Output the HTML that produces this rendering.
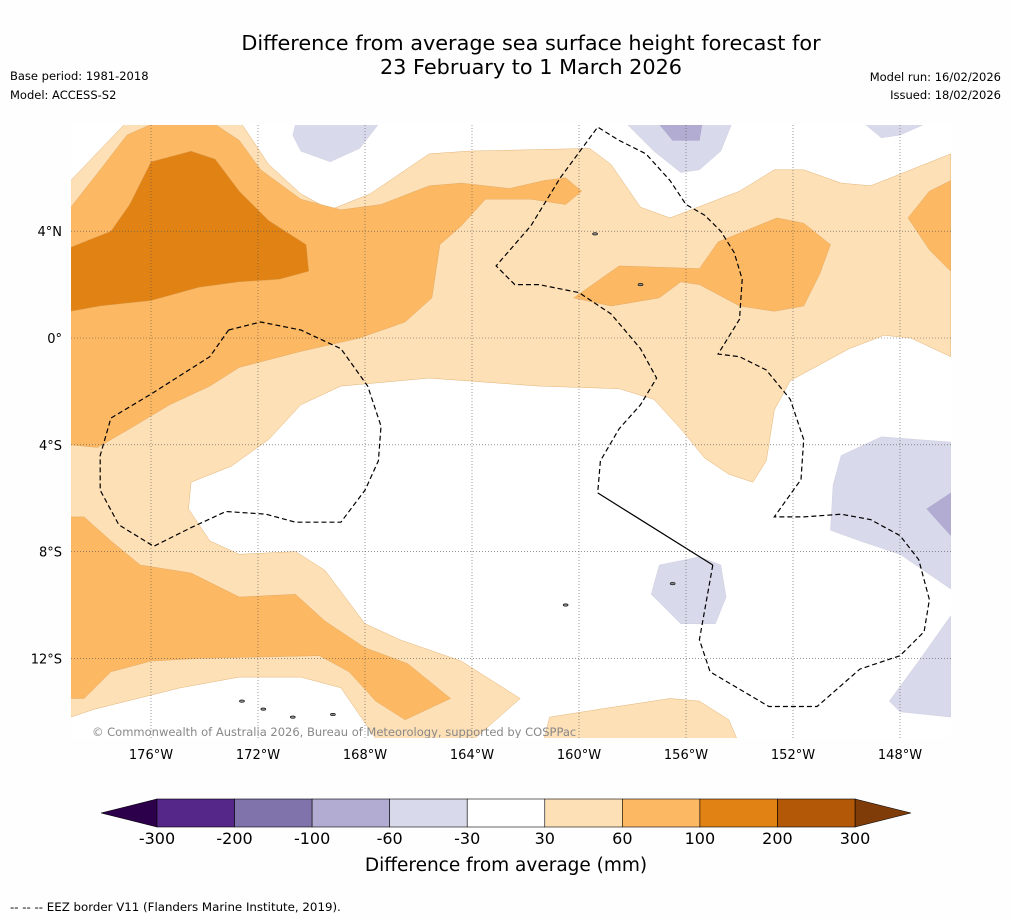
<!DOCTYPE html>
<html><head><meta charset="utf-8">
<style>
body{margin:0;background:#fff;width:1011px;height:919px;overflow:hidden;font-family:"DejaVu Sans",sans-serif;}
</style></head>
<body>
<svg id="chart" width="1011" height="919" xmlns="http://www.w3.org/2000/svg" font-family="DejaVu Sans, sans-serif">
<rect width="1011" height="919" fill="#fefefe"/>
<text x="531" y="50" font-size="20.8" text-anchor="middle">Difference from average sea surface height forecast for</text>
<text x="531" y="74" font-size="20.8" text-anchor="middle">23 February to 1 March 2026</text>
<text x="10" y="80" font-size="11.5">Base period: 1981-2018</text>
<text x="10" y="99" font-size="11.5">Model: ACCESS-S2</text>
<text x="1001" y="81" font-size="11.5" text-anchor="end">Model run: 16/02/2026</text>
<text x="1001" y="99" font-size="11.5" text-anchor="end">Issued: 18/02/2026</text>
<defs><clipPath id="mapclip"><rect x="71" y="125" width="880" height="613"/></clipPath></defs>
<g id="map" clip-path="url(#mapclip)">
<rect x="71" y="125" width="880" height="613" fill="#fff"/>
</g>
<g id="axes"></g>
<g id="cbar"></g>
<text x="506" y="871" font-size="18.5" text-anchor="middle">Difference from average (mm)</text>
<text x="10" y="911" font-size="11.8">--  --  -- EEZ border V11 (Flanders Marine Institute, 2019).</text>
</svg>
<script>
const NS="http://www.w3.org/2000/svg";
const levels=[-300,-200,-100,-60,-30,30,60,100,200,300];
const levelColors=["#542788","#8073ac","#b2abd2","#d8daeb","#ffffff","#fee0b6","#fdb863","#e08214","#b35806"];
const lonTicks=[-176,-172,-168,-164,-160,-156,-152,-148];
const lonLabels=["176°W","172°W","168°W","164°W","160°W","156°W","152°W","148°W"];
const latTicks=[4,0,-4,-8,-12];
const latLabels=["4°N","0°","4°S","8°S","12°S"];
const c30a=[[-179,5.9],[-177,8.0],[-172.6,8.0],[-171.6,6.5],[-170.4,5.4],[-169.3,4.8],[-167.8,5.4],[-165.6,6.9],[-164.1,7.0],[-159.6,7.1],[-158.8,6.5],[-157.7,4.9],[-156.6,4.5],[-154.0,5.5],[-152.7,6.3],[-151.6,6.3],[-150.2,5.8],[-149.1,5.7],[-146.1,6.9],[-146.1,-0.7],[-147.6,0],[-148.6,0.1],[-149.9,-0.4],[-152.1,-1.6],[-152.7,-2.7],[-153.0,-4.6],[-153.5,-5.4],[-154.4,-5.1],[-155.3,-4.5],[-156.2,-3.4],[-157.2,-2.3],[-158.5,-1.9],[-161.5,-1.8],[-165.6,-1.5],[-168.9,-1.8],[-170.4,-2.5],[-171.6,-3.8],[-173.0,-4.8],[-174.5,-5.4],[-174.6,-6.4],[-173.8,-7.6],[-172.7,-8.1],[-170.6,-8.0],[-169.5,-8.7],[-168.0,-10.7],[-166.7,-11.3],[-164.4,-12.1],[-163.3,-12.8],[-162.2,-13.5],[-163.9,-15.0],[-167.6,-15.0],[-168.9,-13.1],[-170.4,-12.7],[-172.7,-12.7],[-174.9,-13.1],[-178.1,-13.9],[-179,-14.2]];
const c30b=[[-161.3,-15],[-161.1,-14.2],[-159.2,-13.9],[-156.6,-13.5],[-155.5,-13.6],[-154.4,-14.3],[-154.1,-15]];
const c60a=[[-179,4.9],[-177.9,6.3],[-176.9,7.6],[-176.0,8.0],[-173.6,8.0],[-172.7,7.4],[-171.9,6.3],[-170.4,5.2],[-168.9,4.8],[-167.4,5.0],[-165.6,5.7],[-164.4,5.8],[-162.6,5.6],[-161.3,5.9],[-160.5,6.0],[-159.9,5.5],[-160.5,5.0],[-161.8,5.2],[-163.5,5.2],[-164.4,4.2],[-165.2,3.5],[-165.5,1.5],[-166.5,0.6],[-168.2,0],[-170.4,-0.5],[-172.7,-1.1],[-173.8,-1.8],[-175.3,-2.5],[-176.8,-3.4],[-178.0,-4.1],[-179,-4.0]];
const c60b=[[-160.2,1.5],[-158.5,2.7],[-155.5,2.6],[-154.8,3.6],[-152.6,4.5],[-151.6,4.3],[-150.6,3.5],[-151.0,2.4],[-151.6,1.2],[-152.7,1.0],[-154.0,1.2],[-155.5,2.0],[-156.2,2.1],[-157.0,1.5],[-158.8,1.2]];
const c60c=[[-147.7,4.5],[-146.9,5.5],[-146.1,5.9],[-146.1,2.5],[-146.9,3.3]];
const c60d=[[-179,-6.7],[-178.5,-6.7],[-177.5,-7.6],[-176.4,-8.5],[-174.5,-8.8],[-172.7,-9.7],[-170.6,-9.6],[-169.5,-10.6],[-168.0,-11.6],[-166.4,-12.2],[-164.8,-13.5],[-166.5,-14.3],[-167.6,-13.6],[-168.6,-12.5],[-169.7,-11.9],[-174.2,-12.0],[-176.0,-12.1],[-177.5,-12.5],[-178.5,-13.5],[-179,-13.5]];
const c100a=[[-179,3.4],[-177.5,4.0],[-176.8,5.0],[-176.0,6.6],[-174.5,7.0],[-173.6,6.7],[-172.7,5.5],[-171.6,4.4],[-170.2,3.5],[-170.1,2.5],[-171.2,2.2],[-172.7,2.1],[-174.2,1.9],[-176.0,1.4],[-177.9,1.2],[-179,1.0]];
const n30a=[[-170.6,8],[-167.5,8],[-168.2,7.1],[-169.3,6.6],[-170.4,7.0],[-170.7,7.6]];
const n30b=[[-158.2,8],[-154.3,8],[-154.7,7.0],[-155.5,6.3],[-156.2,6.2],[-157.2,7.0]];
const n60b=[[-157,8],[-155.4,8],[-155.5,7.4],[-156.5,7.4]];
const n30c=[[-149.3,8],[-147.1,8],[-148.0,7.6],[-148.7,7.5]];
const n30d=[[-150.2,-4.4],[-148.7,-3.7],[-146.1,-3.9],[-146.1,-9.4],[-148.0,-8.1],[-149.5,-7.6],[-150.6,-7.2],[-150.5,-5.5]];
const n60d=[[-147.0,-6.4],[-146.1,-5.8],[-146.1,-7.4]];
const n30e=[[-157.0,-8.5],[-155.5,-8.2],[-154.7,-8.5],[-154.5,-9.7],[-154.9,-10.7],[-156.2,-10.7],[-157.3,-9.6]];
const n30f=[[-148.4,-13.6],[-147.3,-12.1],[-146.1,-10.4],[-146.1,-14.2],[-148.0,-14.0]];
const eezA=[[-173.1,0.3],[-171.9,0.6],[-170.4,0.3],[-168.9,-0.4],[-167.9,-1.8],[-167.4,-3.3],[-167.5,-4.6],[-168.0,-5.7],[-168.9,-6.9],[-170.6,-6.9],[-171.7,-6.6],[-173.2,-6.5],[-174.5,-7.1],[-175.9,-7.8],[-177.2,-7.0],[-177.9,-5.7],[-177.9,-4.4],[-177.5,-3.0],[-176.0,-2.1],[-173.8,-0.7],[-173.1,0.3]];
const eezB=[[-155.0,-8.5],[-155.5,-11.3],[-155.1,-12.5],[-152.9,-13.8],[-151.1,-13.8],[-149.5,-12.4],[-148.0,-11.9],[-147.1,-11.0],[-146.9,-9.8],[-147.3,-8.3],[-148.0,-7.4],[-149.1,-6.8],[-150.2,-6.6],[-151.6,-6.7],[-152.7,-6.7],[-151.7,-5.3],[-151.6,-3.8],[-152.1,-2.3],[-153.0,-1.2],[-154.0,-0.7],[-154.8,-0.6],[-154.0,0.7],[-153.9,2.2],[-154.2,3.2],[-154.7,4.0],[-155.3,4.6],[-156.0,5.0],[-156.6,5.9],[-157.5,6.9],[-158.5,7.4],[-159.3,7.9],[-160.7,6.0],[-161.8,4.2],[-163.1,2.7],[-162.4,2.0],[-161.5,2.0],[-160.0,1.7],[-158.8,0.9],[-157.7,-0.4],[-157.1,-1.5],[-157.7,-2.5],[-158.5,-3.4],[-159.2,-4.6],[-159.3,-5.8]];
const boundary=[[-159.3,-5.8],[-155.0,-8.5]];
const islands=[[-172.6,-13.6],[-171.8,-13.9],[-170.7,-14.2],[-169.2,-14.1],[-157.7,2.0],[-159.4,3.9],[-156.5,-9.2],[-160.5,-10.0]];

const xS=lon=>151+(lon+176)*26.75;
const yS=lat=>338-lat*26.7;
const pts=a=>a.map(p=>xS(p[0]).toFixed(1)+","+yS(p[1]).toFixed(1)).join(" ");
const map=document.getElementById("map");
function poly(arr,color,name,stroke){
  const p=document.createElementNS(NS,"polygon");
  p.setAttribute("points",pts(arr));
  p.setAttribute("fill",color);
  p.setAttribute("stroke",stroke||"#d9a560");p.setAttribute("stroke-width","0.4");
  
  
  map.appendChild(p);
}
poly(c30a,levelColors[5],"contour-30-60-main");
poly(c30b,levelColors[5],"contour-30-60-south");
poly(c60a,levelColors[6],"contour-60-100-northwest");
poly(c60b,levelColors[6],"contour-60-100-central");
poly(c60c,levelColors[6],"contour-60-100-east");
poly(c60d,levelColors[6],"contour-60-100-southwest");
poly(c100a,levelColors[7],"contour-100-200-northwest");
poly(n30a,levelColors[3],"contour-neg30-60-a","#c8c8dc");
poly(n30b,levelColors[3],"contour-neg30-60-b","#c8c8dc");
poly(n60b,levelColors[2],"contour-neg60-100-b","#a8a0c8");
poly(n30c,levelColors[3],"contour-neg30-60-c","#c8c8dc");
poly(n30d,levelColors[3],"contour-neg30-60-d","#c8c8dc");
poly(n60d,levelColors[2],"contour-neg60-100-d","#a8a0c8");
poly(n30e,levelColors[3],"contour-neg30-60-e","#c8c8dc");
poly(n30f,levelColors[3],"contour-neg30-60-f","#c8c8dc");
islands.forEach(function(p){
  const e=document.createElementNS(NS,"ellipse");
  e.setAttribute("cx",xS(p[0]));e.setAttribute("cy",yS(p[1]));
  e.setAttribute("rx",2.5);e.setAttribute("ry",1.2);
  e.setAttribute("fill","#888");e.setAttribute("stroke","#000");e.setAttribute("stroke-width","0.6");
  
  
  map.appendChild(e);
});
lonTicks.forEach(function(l){
  const ln=document.createElementNS(NS,"line");
  ln.setAttribute("x1",xS(l));ln.setAttribute("x2",xS(l));ln.setAttribute("y1",125);ln.setAttribute("y2",738);
  ln.setAttribute("stroke","#555");ln.setAttribute("stroke-width","0.6");ln.setAttribute("stroke-dasharray","1,2");
  
  
  map.appendChild(ln);
});
latTicks.forEach(function(l){
  const ln=document.createElementNS(NS,"line");
  ln.setAttribute("y1",yS(l));ln.setAttribute("y2",yS(l));ln.setAttribute("x1",71);ln.setAttribute("x2",951);
  ln.setAttribute("stroke","#555");ln.setAttribute("stroke-width","0.6");ln.setAttribute("stroke-dasharray","1,2");
  
  
  map.appendChild(ln);
});
function line(arr,dash,name){
  const p=document.createElementNS(NS,"polyline");
  p.setAttribute("points",pts(arr));p.setAttribute("fill","none");
  p.setAttribute("stroke","#000");p.setAttribute("stroke-width","1.2");
  if(dash)p.setAttribute("stroke-dasharray","5,3");
  
  
  map.appendChild(p);
}
line(eezA,true,"eez-border-west");
line(eezB,true,"eez-border-east");
line(boundary,false,"maritime-boundary");
const cr=document.createElementNS(NS,"text");
cr.setAttribute("x",92);cr.setAttribute("y",736);cr.setAttribute("font-size","11.5");cr.setAttribute("fill","#888");
cr.textContent="© Commonwealth of Australia 2026, Bureau of Meteorology, supported by COSPPac";


map.appendChild(cr);
const axes=document.getElementById("axes");
lonTicks.forEach(function(l,i){
  const t=document.createElementNS(NS,"text");
  t.setAttribute("x",xS(l));t.setAttribute("y",759);t.setAttribute("font-size","13");t.setAttribute("text-anchor","middle");
  t.textContent=lonLabels[i];
  
  
  axes.appendChild(t);
});
latTicks.forEach(function(l,i){
  const t=document.createElementNS(NS,"text");
  t.setAttribute("x",62);t.setAttribute("y",yS(l)+5);t.setAttribute("font-size","13");t.setAttribute("text-anchor","end");
  t.textContent=latLabels[i];
  
  
  axes.appendChild(t);
});
const cb=document.getElementById("cbar");
const cbX0=157,cbX1=855,cbY=799,cbH=28;
const segW=(cbX1-cbX0)/levelColors.length;
const lt=document.createElementNS(NS,"polygon");
lt.setAttribute("points",`${cbX0},${cbY} ${cbX0},${cbY+cbH} 101,${cbY+cbH/2}`);
lt.setAttribute("fill","#2d004b");lt.setAttribute("stroke","#000");lt.setAttribute("stroke-width","0.6");


cb.appendChild(lt);
const rt=document.createElementNS(NS,"polygon");
rt.setAttribute("points",`${cbX1},${cbY} ${cbX1},${cbY+cbH} 911,${cbY+cbH/2}`);
rt.setAttribute("fill","#7f3b08");rt.setAttribute("stroke","#000");rt.setAttribute("stroke-width","0.6");


cb.appendChild(rt);
levelColors.forEach(function(c,i){
  const r=document.createElementNS(NS,"rect");
  r.setAttribute("x",cbX0+i*segW);r.setAttribute("y",cbY);r.setAttribute("width",segW);r.setAttribute("height",cbH);
  r.setAttribute("fill",c);r.setAttribute("stroke","#000");r.setAttribute("stroke-width","0.6");
  
  
  cb.appendChild(r);
});
levels.forEach(function(v,i){
  const t=document.createElementNS(NS,"text");
  t.setAttribute("x",cbX0+i*segW);t.setAttribute("y",844);t.setAttribute("font-size","16");t.setAttribute("text-anchor","middle");
  t.textContent=v;
  
  
  cb.appendChild(t);
});
</script>
</body></html>
